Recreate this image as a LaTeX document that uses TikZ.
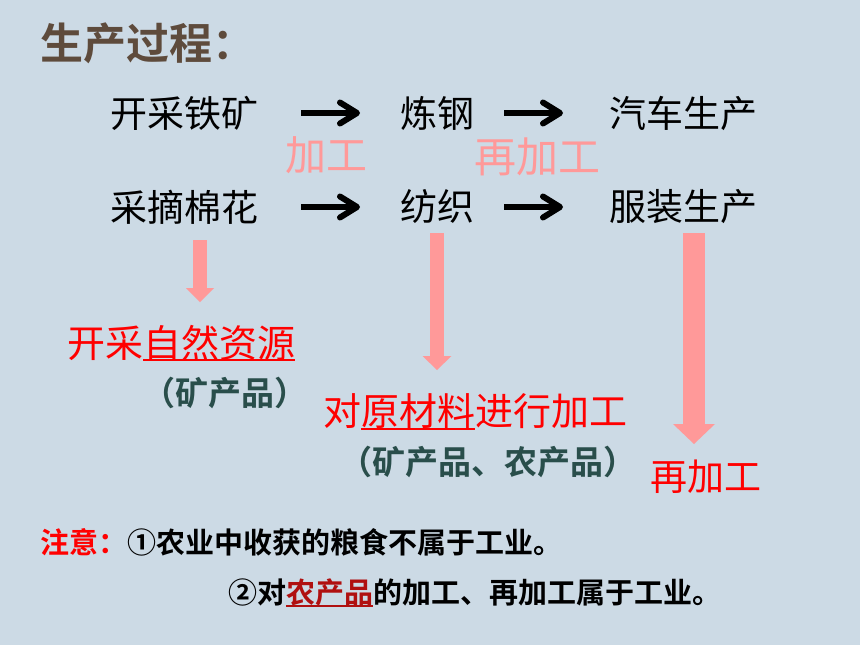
\documentclass[tikz,border=0pt]{standalone}
\usepackage{fontspec}
\setmainfont{Noto Sans CJK SC}[BoldFont={Noto Sans CJK SC Bold}]
\usetikzlibrary{arrows.meta,calc}

\definecolor{bgc}{HTML}{CCDAE5}
\definecolor{titlec}{HTML}{5E4B3C}
\definecolor{pinkc}{HTML}{FF9999}
\definecolor{tealc}{HTML}{294E4B}
\definecolor{darkred}{HTML}{B01010}

% underline with a thicker rule
\newcommand\thickul[1]{\setbox0\hbox{#1}\rlap{\rule[-4pt]{\wd0}{2pt}}\box0}
\newcommand\fs[1]{\fontsize{#1}{#1}\selectfont}

\begin{document}
\begin{tikzpicture}[x=1pt,y=-1pt,
    every node/.style={inner sep=0pt,anchor=west},
    stepname/.style={font=\fs{37}},
    proclabel/.style={font=\fs{41},text=pinkc},
    redtext/.style={font=\fs{38},text=red},
    product/.style={font=\fs{33}\bfseries,text=tealc},
    note/.style={font=\fs{29}\bfseries},
    blackarrow/.style={line width=6pt,-{Straight Barb[length=17pt,width=21pt,round]}},
    fatarrow/.style={draw=pinkc,line width=14pt,-{Triangle[width=28pt,length=14pt,line width=0pt]}}]

  \path[use as bounding box,fill=bgc] (0,0) rectangle (860,645);

  \node[font=\fs{43}\bfseries,text=titlec] (title) at (40,43) {生产过程：};

  \node[stepname] (mine) at (110,113) {开采铁矿};
  \node[stepname] (steel) at (400,113) {炼钢};
  \node[stepname] (car) at (609,113) {汽车生产};
  \node[stepname] (cotton) at (110,207) {采摘棉花};
  \node[stepname] (weave) at (400,207) {纺织};
  \node[stepname] (cloth) at (609,207) {服装生产};

  \node[proclabel] (proc) at (285,155) {加工};
  \node[proclabel,font=\fs{42}] (reproc) at (474,157) {再加工};

  \path[blackarrow] (mine) edge[shorten <=43pt,shorten >=40pt] (steel)
                    (steel) edge[shorten <=30pt,shorten >=46pt] (car)
                    (cotton) edge[shorten <=43pt,shorten >=40pt] (weave)
                    (weave) edge[shorten <=30pt,shorten >=46pt] (cloth);

  \node[redtext] (nature) at (67,343) {开采\thickul{自然资源}};
  \node[product] (ore) at (142,393) {（矿产品）};
  \node[redtext] (raw) at (323,412) {对\thickul{原材料}进行加工};
  \node[product] (both) at (339,462) {（矿产品、农产品）};
  \node[redtext,font=\fs{37}] (again) at (650,477) {再加工};

  \coordinate (tipa) at (200,302);
  \coordinate (tipb) at (437,370);
  \coordinate (tipc) at (694,444);

  \draw[fatarrow] ($(cotton.south -| tipa)+(0,16)$) -- (tipa);
  \draw[fatarrow,-{Triangle[width=29pt,length=14pt,line width=0pt]}]
    ($(weave.south -| tipb)+(0,9)$) -- (tipb);
  \draw[fatarrow,line width=22pt,-{Triangle[width=42pt,length=20pt,line width=0pt]}]
    ($(cloth.south -| tipc)+(0,9)$) -- (tipc);

  \node[note] (note1) at (40,542) {\textcolor{red}{注意：}①农业中收获的粮食不属于工业。};
  \node[note] (note2) at (228,593) {②对\textcolor{darkred}{\thickul{农产品}}的加工、再加工属于工业。};
\end{tikzpicture}
\end{document}
